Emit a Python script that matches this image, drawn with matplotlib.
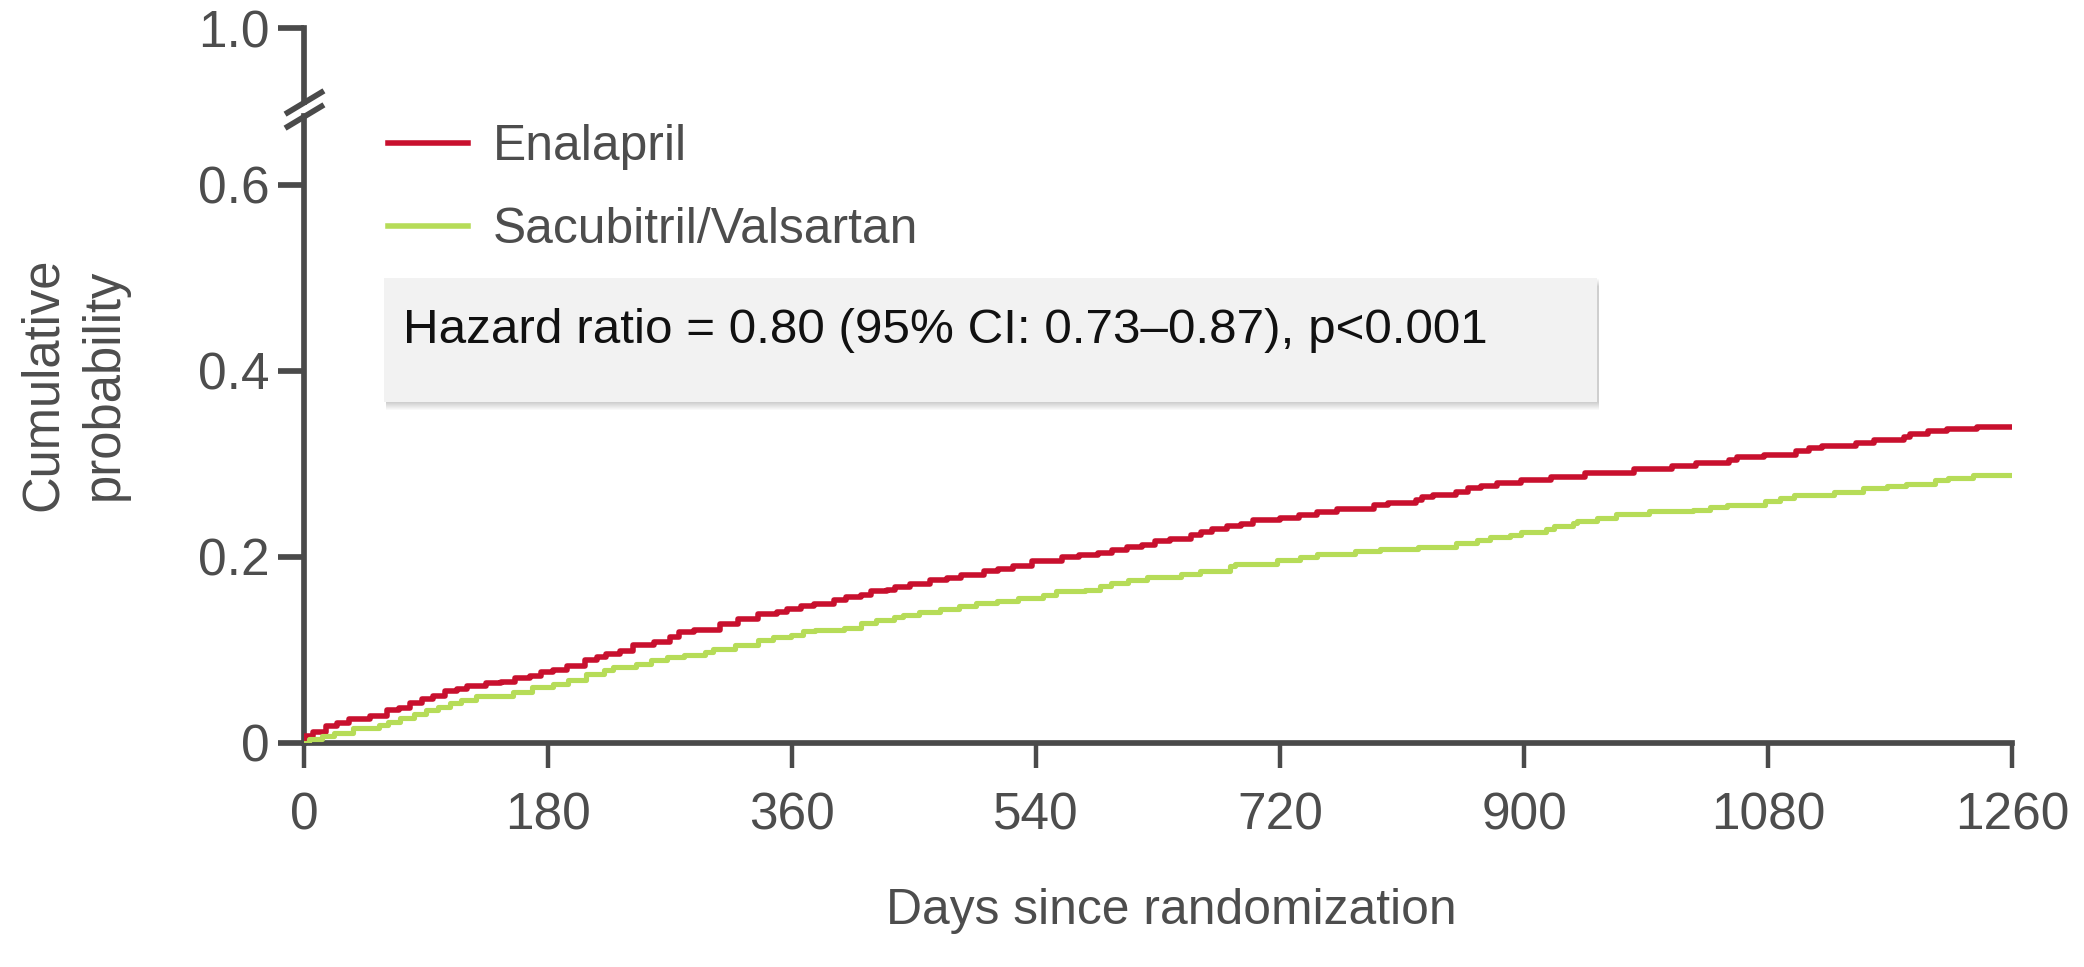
import numpy as np
import matplotlib
matplotlib.use("Agg")
import matplotlib.pyplot as plt
from matplotlib.patches import Rectangle

# --- data (days, cumulative probability), step curves ---
enal_days = [0, 1, 7, 16, 24, 33, 49, 61, 70, 78, 87, 95, 104, 113, 120, 134, 145, 156, 167, 175,
             184, 194, 207, 216, 223, 233, 243, 258, 270, 277, 288, 307, 320, 335, 349, 356, 367,
             376, 391, 400, 411, 418, 430, 436, 447, 462, 474, 485, 502, 512, 523, 537, 559, 572,
             586, 596, 607, 618, 628, 639, 654, 662, 670, 681, 691, 700, 720, 734, 747, 762, 789,
             800, 820, 825, 833, 850, 859, 868, 880, 898, 920, 945, 981, 1009, 1027, 1051, 1057,
             1077, 1101, 1110, 1120, 1145, 1158, 1180, 1185, 1198, 1212, 1234, 1260]
enal_prob = [0.0, 0.008, 0.012, 0.018, 0.022, 0.026, 0.029, 0.035, 0.038, 0.043, 0.047, 0.051,
             0.056, 0.058, 0.061, 0.064, 0.066, 0.070, 0.072, 0.076, 0.079, 0.083, 0.089, 0.093,
             0.096, 0.099, 0.105, 0.109, 0.114, 0.119, 0.122, 0.128, 0.133, 0.139, 0.141, 0.144,
             0.147, 0.149, 0.154, 0.157, 0.159, 0.163, 0.165, 0.168, 0.171, 0.175, 0.177, 0.181,
             0.185, 0.187, 0.190, 0.196, 0.200, 0.202, 0.204, 0.208, 0.211, 0.213, 0.217, 0.219,
             0.224, 0.227, 0.230, 0.233, 0.236, 0.240, 0.242, 0.245, 0.248, 0.252, 0.256, 0.258,
             0.261, 0.264, 0.267, 0.270, 0.274, 0.276, 0.280, 0.283, 0.286, 0.290, 0.295, 0.298,
             0.301, 0.304, 0.307, 0.310, 0.314, 0.317, 0.319, 0.323, 0.326, 0.329, 0.332, 0.336,
             0.338, 0.340, 0.340]

sv_days = [0, 4, 13, 22, 36, 55, 62, 71, 81, 90, 99, 108, 116, 127, 154, 168, 184, 195, 208, 221,
           228, 245, 256, 268, 280, 296, 302, 318, 335, 346, 359, 368, 377, 398, 411, 422, 435,
           442, 454, 469, 483, 496, 511, 527, 545, 555, 576, 587, 595, 608, 622, 647, 661, 683,
           687, 706, 718, 735, 747, 775, 794, 822, 850, 865, 875, 890, 898, 916, 922, 936, 939,
           954, 968, 992, 1025, 1037, 1050, 1078, 1089, 1099, 1129, 1150, 1168, 1182, 1203, 1213,
           1231, 1260]
sv_prob = [0.0, 0.004, 0.008, 0.011, 0.016, 0.019, 0.023, 0.027, 0.031, 0.036, 0.039, 0.043,
           0.046, 0.051, 0.055, 0.060, 0.063, 0.068, 0.074, 0.079, 0.082, 0.085, 0.089, 0.093,
           0.095, 0.098, 0.101, 0.105, 0.111, 0.114, 0.116, 0.120, 0.122, 0.124, 0.129, 0.132,
           0.135, 0.138, 0.141, 0.144, 0.147, 0.151, 0.153, 0.156, 0.159, 0.163, 0.165, 0.169,
           0.172, 0.175, 0.179, 0.182, 0.185, 0.190, 0.192, 0.193, 0.197, 0.200, 0.203, 0.206,
           0.209, 0.211, 0.215, 0.218, 0.222, 0.224, 0.227, 0.230, 0.233, 0.237, 0.239, 0.242,
           0.246, 0.249, 0.251, 0.254, 0.256, 0.260, 0.263, 0.267, 0.270, 0.274, 0.276, 0.279,
           0.283, 0.285, 0.288, 0.288]

series_names = ["Enalapril", "Sacubitril/Valsartan"]
xticks = [0, 180, 360, 540, 720, 900, 1080, 1260]
yticks = [0, 0.2, 0.4, 0.6]
ytick_labels = ["0", "0.2", "0.4", "0.6"]
top_tick = [1.0]
top_tick_label = ["1.0"]
hr_text = "Hazard ratio = 0.80 (95% CI: 0.73\u20130.87), p<0.001"

RED = "#c8102e"
GREEN = "#b6dc58"
AXC = "#4a4a4a"
TXT = "#4d4d4d"
SPW = 4.1   # spine width, pt

plt.rcParams["font.family"] = ["Liberation Sans", "DejaVu Sans"]

W, H = 2084, 967
fig = plt.figure(figsize=(W / 100, H / 100), dpi=100)

def fx(px):
    return px / W

def fy(py):
    return 1 - py / H

# main axes (0 .. break) and small top axes (just the 1.0 tick)
ax = fig.add_axes([fx(304), fy(743), fx(2012) - fx(304), fy(116) - fy(743)])
ax_top = fig.add_axes([fx(304), fy(102), fx(2012) - fx(304), fy(28) - fy(102)])

ax.step(enal_days, enal_prob, where="post", color=RED, lw=4.0, label=series_names[0], zorder=3)
ax.step(sv_days, sv_prob, where="post", color=GREEN, lw=3.7, label=series_names[1], zorder=3)

ax.set_xlim(0, 1260)
ax.set_ylim(0, (743 - 116) / 930)
ax.set_xticks(xticks)
ax.set_xticklabels([str(t) for t in xticks])
ax.set_yticks(yticks)
ax.set_yticklabels(ytick_labels)

for s in ["top", "right"]:
    ax.spines[s].set_visible(False)
for s in ["left", "bottom"]:
    ax.spines[s].set_color(AXC)
    ax.spines[s].set_linewidth(SPW)
ax.tick_params(axis="x", length=18, width=3.2, color=AXC, labelsize=37, labelcolor=TXT, pad=17)
ax.tick_params(axis="y", length=19, width=SPW, color=AXC, labelsize=37, labelcolor=TXT, pad=6)

ax_top.set_xlim(0, 1260)
ax_top.set_ylim(1.0 - (102 - 28) / 930, 1.0)
ax_top.set_yticks(top_tick)
ax_top.set_yticklabels(top_tick_label)
ax_top.set_xticks([])
ax_top.patch.set_visible(False)
for s in ["top", "right", "bottom"]:
    ax_top.spines[s].set_visible(False)
ax_top.spines["left"].set_color(AXC)
ax_top.spines["left"].set_linewidth(SPW)
ax_top.tick_params(axis="y", length=19, width=SPW, color=AXC, labelsize=37, labelcolor=TXT, pad=6)

# axis break marks
d = 0.6
kw = dict(marker=[(-1, -d), (1, d)], markersize=28, linestyle="none",
          color=AXC, mec=AXC, mew=SPW, clip_on=False, zorder=5)
ax.plot([0], [1], transform=ax.transAxes, **kw)
ax_top.plot([0], [0], transform=ax_top.transAxes, **kw)

# legend
leg = ax.legend(loc="upper left", bbox_to_anchor=(fx(388), fy(124)),
                bbox_transform=fig.transFigure, frameon=False, fontsize=35.8,
                handlelength=1.6, handletextpad=0.5, labelspacing=0.75,
                borderpad=0, borderaxespad=0)
for t in leg.get_texts():
    t.set_color(TXT)
for h in leg.get_lines():
    h.set_linewidth(4.0)

# hazard ratio box with soft shadow
bx0, bx1, by0, by1 = 384, 1597, 278, 402
for i in range(1, 9):
    fig.patches.append(Rectangle((fx(bx0 + 2), fy(by1 + i)), fx(bx1 + 2) - fx(bx0 + 2),
                                 fy(by0 + i) - fy(by1 + i), transform=fig.transFigure,
                                 facecolor="black", alpha=0.022, edgecolor="none", zorder=0))
fig.patches.append(Rectangle((fx(bx0), fy(by1)), fx(bx1) - fx(bx0), fy(by0) - fy(by1),
                             transform=fig.transFigure, facecolor="#f2f2f2",
                             edgecolor="none", zorder=1))
fig.text(fx(403), fy(343), hr_text, fontsize=35.6, color="#111111", va="baseline", ha="left")

# axis labels
fig.text(fx(1171), fy(924), "Days since randomization", fontsize=35.8, color=TXT,
         ha="center", va="baseline")
fig.text(fx(74), fy(384), "Cumulative\nprobability", fontsize=36.5, color=TXT, rotation=90,
         ha="center", va="center", multialignment="center", linespacing=1.3)

fig.savefig("out.png", dpi=100)
